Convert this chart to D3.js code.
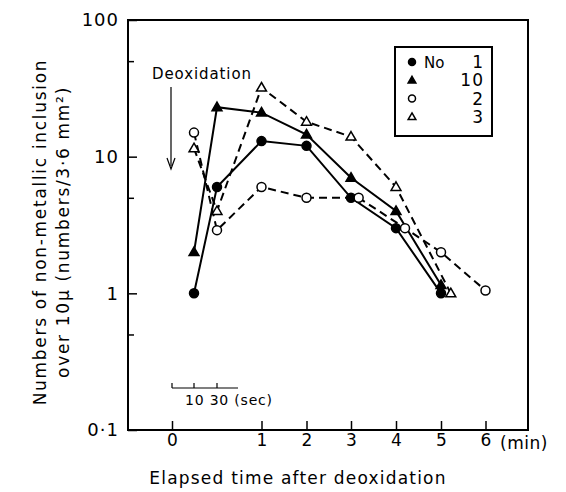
<!DOCTYPE html>
<html><head><meta charset="utf-8">
<script src="https://cdn.jsdelivr.net/npm/d3@7"></script>
<style>body{margin:0;background:#fff}svg{display:block}text{font-family:"DejaVu Sans",sans-serif;fill:#000}</style>
</head><body><svg id="c" width="566" height="492"></svg>
<script>
// time in minutes (10 s = 1/6 min, 30 s = 0.5 min)
const timeBreaks = [0, 1/6, 0.5, 1, 2, 3, 4, 5, 6];
const xTickValues = [0, 1, 2, 3, 4, 5, 6];
const yMajorTicks = [0.1, 1, 10, 100];
const yMinorTicks = [0.5, 5, 50];
const yTickLabels = ["0·1", "1", "10", "100"];
const seriesNames = ["1", "10", "2", "3"];
const timesNo1  = [1/6, 0.5, 1, 2, 3, 4, 5];
const valuesNo1 = [1.0, 6.0, 13, 12, 5.0, 3.0, 1.0];
const timesNo10  = [1/6, 0.5, 1, 2, 3, 4, 5];
const valuesNo10 = [2.0, 23, 21, 14.5, 7.0, 4.0, 1.15];
const timesNo2  = [1/6, 0.5, 1, 2, 3.17, 4.2, 5, 6];
const valuesNo2 = [15, 2.9, 6.0, 5.0, 5.0, 3.0, 2.0, 1.05];
const timesNo3  = [1/6, 0.5, 1, 2, 3, 4, 5.22];
const valuesNo3 = [11.5, 4.0, 32, 18, 14, 6.0, 1.0];

const series = [
  {name: seriesNames[0], t: timesNo1, v: valuesNo1, sym: "circle", fill: true, dash: null},
  {name: seriesNames[1], t: timesNo10, v: valuesNo10, sym: "triangle", fill: true, dash: null},
  {name: seriesNames[2], t: timesNo2, v: valuesNo2, sym: "circle", fill: false, dash: "8,5"},
  {name: seriesNames[3], t: timesNo3, v: valuesNo3, sym: "triangle", fill: false, dash: "8,5"}
];

const L = 128, R = 528, T = 20, B = 430;
const svg = d3.select("#c");
const x = d3.scaleLinear().domain(timeBreaks)
  .range([172, 194, 217, 261.5, 306.5, 351, 396, 441, 485.5]);
const y = d3.scaleLog().domain([0.1, 100]).range([B, T]);

// frame
svg.append("rect").attr("x", L).attr("y", T).attr("width", R - L).attr("height", B - T)
  .attr("fill", "none").attr("stroke", "#000").attr("stroke-width", 2);

// y axis
const yAx = svg.append("g").attr("transform", `translate(${L},0)`)
  .call(d3.axisLeft(y).tickValues(yMajorTicks).tickSize(-9).tickPadding(9)
    .tickFormat((d, i) => yTickLabels[i]));
yAx.select(".domain").remove();
yAx.selectAll("line").attr("stroke-width", 1.5);
yAx.selectAll("text").style("font-size", "18px").style("font-family", "DejaVu Sans")
  .style("letter-spacing", "1px");
const yMin = svg.append("g").attr("transform", `translate(${L},0)`)
  .call(d3.axisLeft(y).tickValues(yMinorTicks).tickSize(-6).tickFormat(""));
yMin.select(".domain").remove();
yMin.selectAll("line").attr("stroke-width", 1.5);

// x axis
const xAx = svg.append("g").attr("transform", `translate(0,${B})`)
  .call(d3.axisBottom(x).tickValues(xTickValues).tickSize(-9).tickPadding(4)
    .tickFormat(d3.format("d")));
xAx.select(".domain").remove();
xAx.selectAll("line").attr("stroke-width", 1.5);
xAx.selectAll("text").style("font-size", "17px").style("font-family", "DejaVu Sans");
svg.append("text").attr("x", 500).attr("y", 449).style("font-size", "17px")
  .style("letter-spacing", "0.5px").text("(min)");

// axis titles
svg.append("text").attr("x", 298).attr("y", 484).attr("text-anchor", "middle")
  .style("font-size", "17px").style("letter-spacing", "1.2px").text("Elapsed time after deoxidation");
const yt = svg.append("g").attr("transform", "translate(46,232) rotate(-90)");
yt.append("text").attr("x", 0).attr("y", 0).attr("text-anchor", "middle")
  .style("font-size", "17px").style("letter-spacing", "1.7px").text("Numbers of non-metallic inclusion");
yt.append("text").attr("x", 0).attr("y", 23).attr("text-anchor", "middle")
  .style("font-size", "17px").style("letter-spacing", "1.7px").text("over 10μ (numbers/3·6 mm²)");

// deoxidation annotation
svg.append("text").attr("x", 152).attr("y", 79).style("font-size", "15px")
  .style("letter-spacing", "0.9px").text("Deoxidation");
svg.append("line").attr("x1", x(0) - 1).attr("x2", x(0) - 1).attr("y1", 87).attr("y2", 166)
  .attr("stroke", "#000").attr("stroke-width", 1.2);
svg.append("path").attr("d", `M${x(0)-5},158 L${x(0)-1},169 L${x(0)+3},158`)
  .attr("fill", "none").attr("stroke", "#000").attr("stroke-width", 1.2);

// seconds scale bar
const by = 388;
svg.append("line").attr("x1", x(0)).attr("x2", 238).attr("y1", by).attr("y2", by)
  .attr("stroke", "#000").attr("stroke-width", 1.2);
[0, 1/6, 0.5].forEach(t => svg.append("line").attr("x1", x(t)).attr("x2", x(t))
  .attr("y1", by).attr("y2", by - 5).attr("stroke", "#000").attr("stroke-width", 1.2));
svg.append("text").attr("x", 185).attr("y", 405).style("font-size", "14px")
  .style("letter-spacing", "0.8px").text("10 30 (sec)");

// lines
const line = d3.line().x(d => x(d[0])).y(d => y(d[1]));
series.forEach(s => {
  const pts = s.t.map((t, i) => [t, s.v[i]]);
  svg.append("path").attr("d", line(pts)).attr("fill", "none").attr("stroke", "#000")
    .attr("stroke-width", 2).attr("stroke-dasharray", s.dash);
});
function marker(g, sym, fill, cx, cy, sz) {
  if (sym === "circle") {
    g.append("circle").attr("cx", cx).attr("cy", cy).attr("r", sz)
      .attr("fill", fill ? "#000" : "#fff").attr("stroke", "#000").attr("stroke-width", 1.5);
  } else {
    const h = sz * 1.9;
    g.append("path").attr("d", `M${cx},${cy - h*0.6} L${cx + h*0.58},${cy + h*0.4} L${cx - h*0.58},${cy + h*0.4}Z`)
      .attr("fill", fill ? "#000" : "#fff").attr("stroke", "#000").attr("stroke-width", 1.5);
  }
}
series.forEach(s => {
  s.t.forEach((t, i) => marker(svg, s.sym, s.fill, x(t), y(s.v[i]), 4.5));
});

// legend
svg.append("rect").attr("x", 395).attr("y", 47).attr("width", 97).attr("height", 89)
  .attr("fill", "#fff").attr("stroke", "#000").attr("stroke-width", 2);
svg.append("text").attr("x", 424).attr("y", 68).style("font-size", "15px").text("No");
series.forEach((s, i) => {
  const ly = 62 + i * 18.3;
  marker(svg, s.sym, s.fill, 412, ly, 3.5);
  svg.append("text").attr("x", 484).attr("y", ly + 6).attr("text-anchor", "end")
    .style("font-size", "17px").style("letter-spacing", "1px").text(s.name);
});
</script></body></html>
